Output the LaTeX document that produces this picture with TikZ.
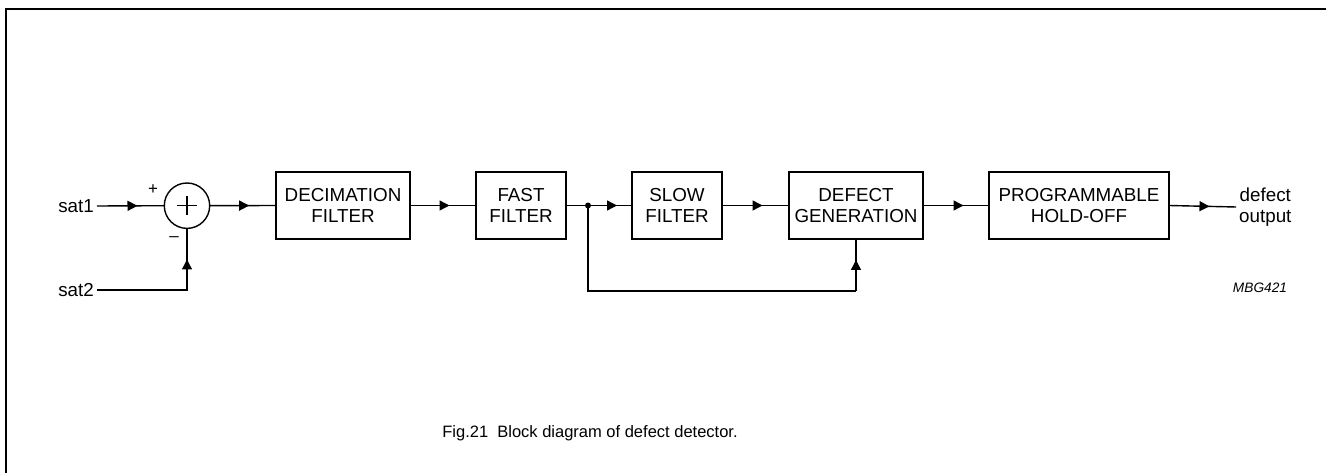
\documentclass[tikz,border=0pt]{standalone}
\usepackage{fontspec}
\setmainfont{Liberation Sans}
\usetikzlibrary{arrows.meta,decorations.markings}
\tikzset{
  blk/.style={draw, line width=2.6pt, outer sep=0pt, inner sep=0pt, minimum height=67pt, align=center, font=\fontsize{18.8}{21}\selectfont},
  lbl/.style={inner sep=3pt, align=center, font=\fontsize{18.8}{21}\selectfont},
  conn/.style={line width=1.4pt},
  midarrow/.style={postaction={decorate}, decoration={markings, mark=at position #1 with {\arrow{Triangle[length=10pt,width=10pt]}}}},
}
\begin{document}
\begin{tikzpicture}[x=1pt,y=-1pt]
\useasboundingbox (0,0) rectangle (1326,473);
% frame
\draw[line width=2.6pt] (6,473) -- (6,9) -- (1326,9);
% nodes
\node[lbl, anchor=east] (sat1) at (97,206) {sat1};
\node[lbl, anchor=east] (sat2) at (97,290) {sat2};
\node[draw, circle, line width=1.4pt, minimum size=45.4pt, inner sep=0pt, outer sep=0pt] (sum) at (187,205.7) {};
\draw[conn] ([xshift=-10pt]sum.center) -- ([xshift=10pt]sum.center);
\draw[conn] ([yshift=-9.5pt]sum.center) -- ([yshift=9.5pt]sum.center);
\node[font=\fontsize{17}{17}\selectfont, inner sep=0pt] (plus) at (153,190) {+};
\node[font=\fontsize{17}{17}\selectfont, inner sep=0pt] (minus) at (174,239) {\textendash};
\node[blk, minimum width=134pt] (dec) at (343,205.5) {DECIMATION\\FILTER};
\node[blk, minimum width=90pt] (fast) at (521,205.5) {FAST\\FILTER};
\node[blk, minimum width=90pt] (slow) at (677,205.5) {SLOW\\FILTER};
\node[blk, minimum width=134pt] (def) at (856,205.5) {DEFECT\\GENERATION};
\node[blk, minimum width=180pt] (prog) at (1079,205.5) {PROGRAMMABLE\\HOLD-OFF};
\node[lbl, anchor=west] (out) at (1236,207) {defect\\output};
\coordinate (j) at (588,205.5);
\coordinate (fb) at (856,291);
% connectors
\draw[conn, midarrow=40.5pt] (sat1.east) -- (sum.west);
\draw[conn, midarrow=120.5pt] (sat2.east) -| (sum.south);
\draw[conn, midarrow=39.5pt] (sum.east) -- (dec.west);
\draw[conn, midarrow=39.5pt] (dec.east) -- (fast.west);
\draw[conn, midarrow=51pt] (fast.east) -- (slow.west);
\draw[conn, midarrow=40.5pt] (slow.east) -- (def.west);
\draw[conn, midarrow=40.5pt] (def.east) -- (prog.west);
\draw[conn, midarrow=40.5pt] (prog.east) -- (out.west);
\draw[conn] (j) |- (fb);
\draw[conn, midarrow=31pt] (fb) -- (def.south);
\fill (j) circle (3pt);
% labels
\node[font=\fontsize{13.7}{14}\selectfont\itshape, inner sep=0pt] (code) at (1260,288) {MBG421};
\node[font=\fontsize{16.5}{18}\selectfont, inner sep=0pt] (cap) at (590,433) {Fig.21\ \ Block diagram of defect detector.};
\end{tikzpicture}
\end{document}
